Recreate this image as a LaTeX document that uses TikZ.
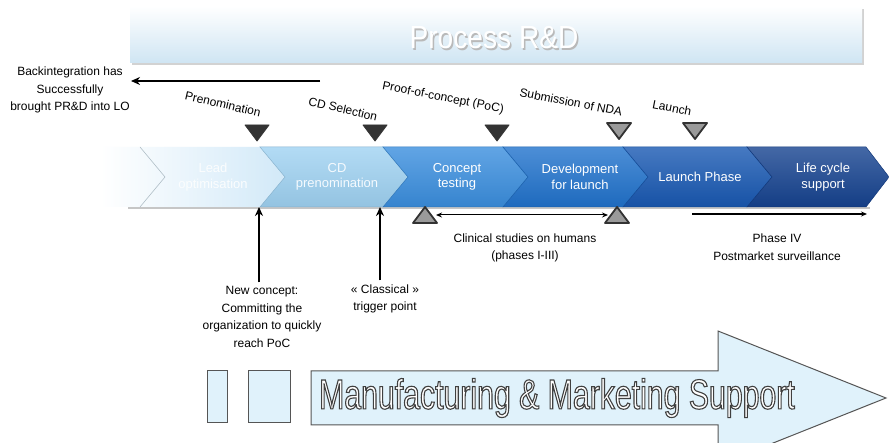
\documentclass[tikz,border=0pt]{standalone}
\usepackage{fontspec}
\setmainfont{Liberation Sans}
\newfontfamily\narrowfont[FakeStretch=0.72]{Liberation Sans}
\newfontfamily\titlefont[FakeStretch=0.88]{Liberation Sans}
\usetikzlibrary{arrows.meta,calc}
\definecolor{chA}{HTML}{D2E9F8}
\definecolor{chB}{HTML}{9FD2F2}
\definecolor{chC}{HTML}{3A8EDE}
\definecolor{chD}{HTML}{2072CC}
\definecolor{chE}{HTML}{1858B2}
\definecolor{chF}{HTML}{15428F}
\definecolor{triDark}{HTML}{333333}
\definecolor{triGray}{HTML}{9A9A9A}
\definecolor{pale}{HTML}{E0F2FB}
\definecolor{boxline}{HTML}{555555}
\definecolor{bannerblue}{HTML}{CFE5F3}
\newcommand\mychev[4]{%
  \shade[top color=#3!80!white, bottom color=#3!93!black, draw=#3!85!black, line width=0.5pt]
    (#1,147) -- (#2,147) -- ({#2+#4},177) -- (#2,207) -- (#1,207) -- ({#1+25},177) -- cycle;}
\newcommand\downtri[2]{\path[#2] ($(#1)+(-12,-8)$) -- ($(#1)+(12,-8)$) -- ($(#1)+(0,8)$) -- cycle;}
\newcommand\uptri[2]{\path[#2] ($(#1)+(-12,8)$) -- ($(#1)+(12,8)$) -- ($(#1)+(0,-8)$) -- cycle;}
\tikzset{
  lbl/.style={font=\fontsize{12}{17.5}\selectfont, align=center, inner sep=1pt},
  mlbl/.style={font=\fontsize{12}{14}\selectfont, inner sep=0pt},
  chevtext/.style={font=\fontsize{13}{15.5}\selectfont, text=white, align=center, inner sep=1pt},
  darkmark/.style={fill=triDark, draw=triDark, line width=0.8pt, line join=round},
  graymark/.style={fill=triGray, draw=triDark, line width=1.8pt, line join=round},
  pointer/.style={line width=1.8pt, -{Stealth[length=9pt,width=8pt]}},
  thinarrow/.style={line width=1pt, -{Stealth[length=6pt,width=5pt]}},
  palebox/.style={fill=pale, draw=boxline, line width=1pt},
}
\begin{document}
\begin{tikzpicture}[x=1pt,y=-1pt]
\useasboundingbox (0,0) rectangle (889,443);
\fill[white] (0,0) rectangle (889,443);
% banner
\fill[gray!35] (132,9) rectangle (864,65);
\shade[top color=white, bottom color=bannerblue] (130,6) rectangle (862,63);
\node[font=\titlefont\fontsize{32}{32}\selectfont, text=gray!55] (titleshadow) at (495.5,39.5) {Process R\&D};
\node[font=\titlefont\fontsize{32}{32}\selectfont, text=white] (title) at (494,38) {Process R\&D};
% chevron band
\fill[gray!45] (128,207) rectangle (870,209.5);
\shade[left color=white, right color=chA] (100,147) -- (260,147) -- (285,177) -- (260,207) -- (100,207) -- cycle;
\draw[chA!60!gray, line width=0.6pt] (140,147) -- (165,177) -- (140,207);
\mychev{260}{383}{chB}{25}
\mychev{383}{503}{chC}{25}
\mychev{503}{623}{chD}{25}
\mychev{623}{747}{chE}{25}
\mychev{747}{866}{chF}{23}
\node[chevtext, text=white!92!chA] (c1) at (213,177) {Lead\\optimisation};
\node[chevtext, text=white!90!chB] (c2) at (337,177) {CD\\prenomination};
\node[chevtext] (c3) at (457,177) {Concept\\testing};
\node[chevtext] (c4) at (580,177) {Development\\for launch};
\node[chevtext] (c5) at (700,177) {Launch Phase};
\node[chevtext] (c6) at (823,177) {Life cycle\\support};
% milestones
\coordinate (m1) at (257,133);
\coordinate (m2) at (375,133);
\coordinate (m3) at (497,133);
\coordinate (m4) at (619,131);
\coordinate (m5) at (695,131);
\downtri{m1}{darkmark}
\downtri{m2}{darkmark}
\downtri{m3}{darkmark}
\downtri{m4}{graymark}
\downtri{m5}{graymark}
\node[mlbl, rotate=-13] (l1) at (223,104) {Prenomination};
\node[mlbl, rotate=-13] (l2) at (343,109) {CD Selection};
\node[mlbl, rotate=-11] (l3) at (443,98) {Proof-of-concept (PoC)};
\node[mlbl, rotate=-11] (l4) at (571,102) {Submission of NDA};
\node[mlbl, rotate=-11] (l5) at (672,108) {Launch};
% backintegration
\node[lbl] (bt) at (70,90) {Backintegration has\\Successfully\\brought PR\&D into LO};
\coordinate (bstart) at (320,81);
\coordinate (btip) at (131,81);
\draw[line width=1.4pt, -{Stealth[length=9pt,width=8pt]}] (bstart) -- (btip);
% trigger arrows
\node[lbl, inner sep=4pt] (n1) at (262,317) {New concept:\\Committing the\\organization to quickly\\reach PoC};
\node[lbl, inner sep=4pt] (n2) at (385,299) {« Classical »\\trigger point};
\coordinate (nc1) at (259,207);
\coordinate (nc2) at (380,207);
\draw[pointer] (n1.north -| nc1) -- (nc1);
\draw[pointer] (n2.north -| nc2) -- (nc2);
% clinical studies
\coordinate (t1) at (425,215);
\coordinate (t2) at (617,215);
\uptri{t1}{graymark}
\uptri{t2}{graymark}
\draw[line width=1pt, {Stealth[length=6pt,width=5pt]}-{Stealth[length=6pt,width=5pt]}] ($(t1)+(11,0)$) -- ($(t2)+(-9,0)$);
\node[lbl] (cs) at (525,248) {Clinical studies on humans\\(phases I-III)};
% phase IV
\coordinate (p4a) at (692,214);
\coordinate (p4b) at (867,214);
\draw[thinarrow, line width=1.3pt] (p4a) -- (p4b);
\node[lbl] (p4) at (777,247) {Phase IV\\Postmarket surveillance};
% bottom
\node[palebox, minimum width=20pt, minimum height=52pt, inner sep=0pt] (r1) at (217,397) {};
\node[palebox, minimum width=42pt, minimum height=52pt, inner sep=0pt] (r2) at (269,397) {};
\begin{scope}
\clip (0,0) rectangle (889,443);
\draw[palebox] (311,371) -- (718,371) -- (718,331) -- (886,398) -- (718,465) -- (718,425) -- (311,425) -- cycle;
\end{scope}
\node[font=\narrowfont\fontsize{42}{42}\selectfont, inner sep=0pt] (mms) at (557,398)
  {\color{white}\special{pdf:literal direct 0.25 0.25 0.25 RG 2 Tr 1.1 w}Manufacturing \& Marketing Support\special{pdf:literal direct 0 Tr}};
\end{tikzpicture}
\end{document}
